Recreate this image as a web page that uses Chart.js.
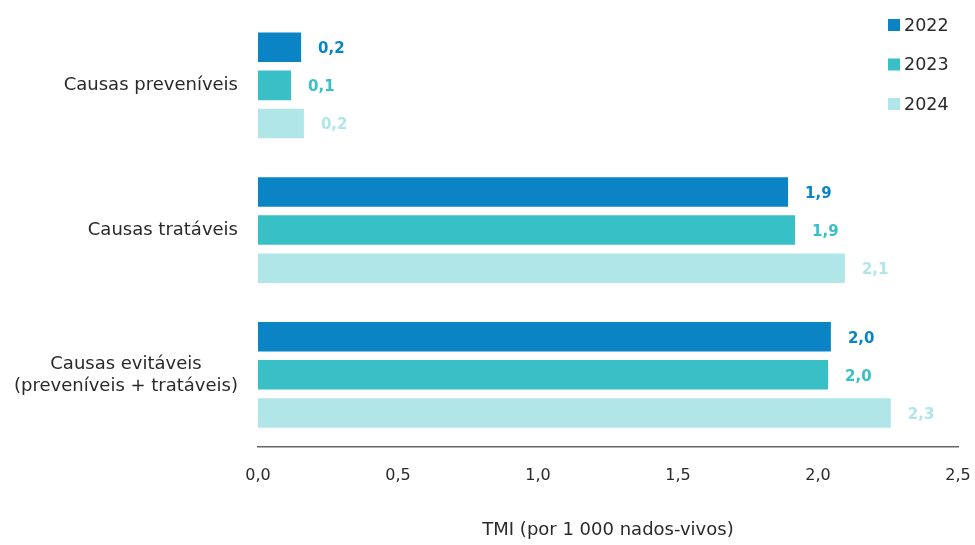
<!DOCTYPE html>
<html>
<head>
<meta charset="utf-8">
<script src="https://cdn.jsdelivr.net/npm/chart.js@4"></script>
<style>
  html, body { margin: 0; padding: 0; background: #fff; }
  #wrap { width: 975px; height: 545px; }
</style>
</head>
<body>
<div id="wrap"><canvas id="chart"></canvas></div>
<script>
const CATEGORIES = [
    ["Causas preveníveis"],
    ["Causas tratáveis"],
    ["Causas evitáveis", "(preveníveis + tratáveis)"]
]
const YEARS = ["2022", "2023", "2024"]
const VALUES_2022 = [0.154, 1.893, 2.046]
const VALUES_2023 = [0.118, 1.918, 2.036]
const VALUES_2024 = [0.164, 2.096, 2.26]
const COLORS = ["#0a84c4", "#38c0c6", "#b0e6e8"]
const X_TICKS = [0, 0.5, 1, 1.5, 2, 2.5]

const FONT = "'DejaVu Sans', sans-serif"
const TEXT = "#2a2a2a"
const fmt = (v) => v.toFixed(1).replace(".", ",")

// labels at the bar ends
const valueLabels = {
    id: "valueLabels",
    afterDatasetsDraw(chart) {
        const ctx = chart.ctx
        ctx.save()
        ctx.font = "bold 15px " + FONT
        ctx.textBaseline = "middle"
        ctx.textAlign = "left"
        chart.data.datasets.forEach((ds, i) => {
            const meta = chart.getDatasetMeta(i)
            meta.data.forEach((bar, j) => {
                ctx.fillStyle = COLORS[i]
                ctx.fillText(fmt(ds.data[j]), bar.x + 17, bar.y + 2)
            })
        })
        ctx.restore()
    }
}

// category names, right aligned block with centred lines
const categoryLabels = {
    id: "categoryLabels",
    afterDraw(chart) {
        const ctx = chart.ctx
        const y = chart.scales.y
        const right = chart.chartArea.left - 20
        const lineH = 22
        ctx.save()
        ctx.font = "18px " + FONT
        ctx.fillStyle = TEXT
        ctx.textBaseline = "middle"
        CATEGORIES.forEach((lines, i) => {
            const widest = Math.max(...lines.map((l) => ctx.measureText(l).width))
            const cx = right - widest / 2
            const cy = y.getPixelForTick(i)
            ctx.textAlign = "center"
            lines.forEach((l, k) => {
                ctx.fillText(l, cx, cy + (k - (lines.length - 1) / 2) * lineH)
            })
        })
        ctx.restore()
    }
}

// legend stacked in the top right corner
const cornerLegend = {
    id: "cornerLegend",
    afterDraw(chart) {
        const ctx = chart.ctx
        ctx.save()
        ctx.font = "17.5px " + FONT
        ctx.textBaseline = "middle"
        ctx.textAlign = "left"
        YEARS.forEach((yr, i) => {
            const cy = 25 + i * 39.5
            ctx.fillStyle = COLORS[i]
            ctx.fillRect(888, cy - 6, 12, 12)
            ctx.fillStyle = TEXT
            ctx.fillText(yr, 904, cy + 1)
        })
        ctx.restore()
    }
}

const ctx = document.getElementById("chart").getContext("2d")
new Chart(ctx, {
    type: "bar",
    data: {
        labels: CATEGORIES,
        datasets: [
            { label: YEARS[0], data: VALUES_2022, backgroundColor: COLORS[0] },
            { label: YEARS[1], data: VALUES_2023, backgroundColor: COLORS[1] },
            { label: YEARS[2], data: VALUES_2024, backgroundColor: COLORS[2] }
        ]
    },
    options: {
        indexAxis: "y",
        responsive: true,
        maintainAspectRatio: false,
        animation: false,
        layout: { padding: { left: 258, right: 17, top: 13, bottom: 4 } },
        categoryPercentage: 0.79,
        barPercentage: 0.775,
        plugins: {
            legend: { display: false },
            tooltip: { enabled: false }
        },
        scales: {
            x: {
                min: 0,
                max: 2.5,
                grid: { display: false, drawTicks: false },
                border: { display: true, color: "#666", width: 1.5 },
                afterBuildTicks: (axis) => { axis.ticks = X_TICKS.map((v) => ({ value: v })) },
                afterFit: (axis) => { axis.paddingLeft = 0; axis.paddingRight = 0 },
                ticks: {
                    padding: 19,
                    color: TEXT,
                    font: { family: FONT, size: 16 },
                    callback: (v) => fmt(v),
                    maxRotation: 0
                },
                title: {
                    display: true,
                    text: "TMI (por 1 000 nados-vivos)",
                    color: TEXT,
                    font: { family: FONT, size: 18 },
                    padding: { top: 15, bottom: 0 }
                }
            },
            y: {
                display: false
            }
        }
    },
    plugins: [valueLabels, categoryLabels, cornerLegend]
})
</script>
</body>
</html>
